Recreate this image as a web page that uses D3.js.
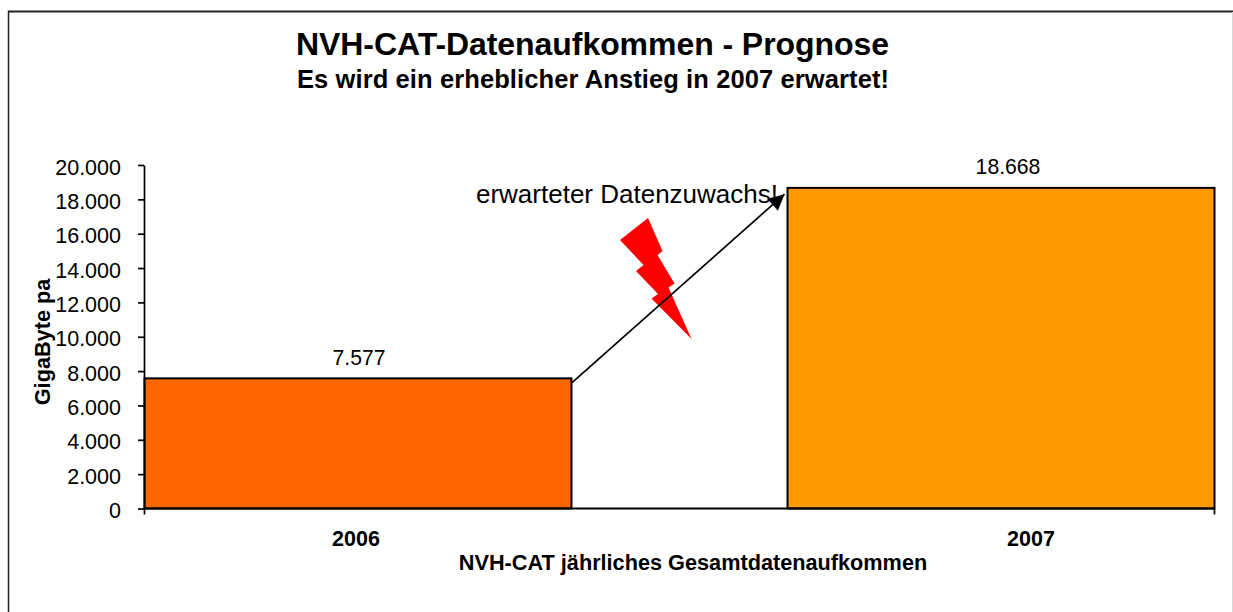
<!DOCTYPE html>
<html><head><meta charset="utf-8">
<script src="https://cdnjs.cloudflare.com/ajax/libs/d3/7.8.5/d3.min.js"></script>
<style>html,body{margin:0;padding:0;background:#fff}svg{display:block}text{font-family:"Liberation Sans",Arial,sans-serif;fill:#000}</style>
</head><body><svg id="c" width="1233" height="612"></svg>
<script>
const categories = ["2006", "2007"];
const seriesValues = [7577, 18668];
const barColors = ["#FF6600", "#FF9900"];
const yTicks = [0, 2000, 4000, 6000, 8000, 10000, 12000, 14000, 16000, 18000, 20000];
const titleMain = "NVH-CAT-Datenaufkommen - Prognose";
const titleSub = "Es wird ein erheblicher Anstieg in 2007 erwartet!";
const yTitle = "GigaByte pa";
const xTitle = "NVH-CAT jährliches Gesamtdatenaufkommen";
const annotation = "erwarteter Datenzuwachs!";

const svg = d3.select("#c");
const fmt = d => d3.format(",")(d).replace(/,/g, ".");
const x = d3.scaleBand().domain(categories).range([144.5, 1214.5]).paddingInner(0.336).paddingOuter(0);
const y = d3.scaleLinear().domain([0, 20000]).range([508.5, 165]);

svg.append("line").attr("x1", 8).attr("x2", 1233).attr("y1", 11.5).attr("y2", 11.5).attr("stroke", "#222").attr("stroke-width", 2);
svg.append("line").attr("x1", 8.5).attr("x2", 8.5).attr("y1", 11).attr("y2", 612).attr("stroke", "#222").attr("stroke-width", 1.5);
svg.append("line").attr("x1", 1232.5).attr("x2", 1232.5).attr("y1", 12).attr("y2", 612).attr("stroke", "#d8d8d8").attr("stroke-width", 1);

const band = x.bandwidth();
svg.selectAll("rect.bar").data(categories).join("rect").attr("class", "bar")
  .attr("x", d => x(d)).attr("width", band)
  .attr("y", (d, i) => y(seriesValues[i])).attr("height", (d, i) => y(0) - y(seriesValues[i]))
  .attr("fill", (d, i) => barColors[i]).attr("stroke", "#000").attr("stroke-width", 2);

const yAxis = d3.axisLeft(y).tickValues(yTicks).tickFormat(fmt).tickSize(6).tickPadding(17).tickSizeOuter(0);
const gy = svg.append("g").attr("transform", "translate(144,0)").call(yAxis);
gy.selectAll("path,line").attr("stroke", "#000").attr("stroke-width", 1.7);
gy.selectAll("text").attr("font-size", 21.5).attr("dy", "0.42em").attr("fill", "#111");

const gx = svg.append("g");
gx.append("line").attr("x1", x.range()[0]).attr("x2", x.range()[1]).attr("y1", y(0)).attr("y2", y(0)).attr("stroke", "#000").attr("stroke-width", 2);
[x.range()[0], x.range()[1]].forEach(px => gx.append("line").attr("x1", px).attr("x2", px).attr("y1", y(0)).attr("y2", y(0) + 6).attr("stroke", "#000").attr("stroke-width", 1.7));
const catShift = [-2, 30];
const valShift = [1, 7];
gx.selectAll("text.cat").data(categories).join("text").attr("class", "cat")
  .attr("x", (d, i) => x(d) + band / 2 + catShift[i]).attr("y", 546).attr("text-anchor", "middle")
  .attr("font-size", 21.5).attr("font-weight", "bold").text(d => d);

svg.selectAll("text.val").data(categories).join("text").attr("class", "val")
  .attr("x", (d, i) => x(d) + band / 2 + valShift[i]).attr("y", (d, i) => y(seriesValues[i]) - 13.5).attr("text-anchor", "middle")
  .attr("font-size", 21.2).attr("fill", "#111").text((d, i) => fmt(seriesValues[i]));

svg.append("text").attr("x", 296).attr("y", 55).attr("font-size", 32).attr("font-weight", "bold")
  .attr("textLength", 593).attr("lengthAdjust", "spacing").text(titleMain);
svg.append("text").attr("x", 297).attr("y", 88).attr("font-size", 25.5).attr("font-weight", "bold")
  .attr("textLength", 592).attr("lengthAdjust", "spacing").text(titleSub);
svg.append("text").attr("x", 693).attr("y", 570).attr("text-anchor", "middle").attr("font-size", 21.7).attr("font-weight", "bold").text(xTitle);
svg.append("text").attr("transform", "translate(50,342) rotate(-90)").attr("text-anchor", "middle").attr("font-size", 21.7).attr("font-weight", "bold").text(yTitle);
svg.append("text").attr("x", 778).attr("y", 203).attr("text-anchor", "end").attr("font-size", 26).attr("fill", "#222").text(annotation);

// lightning bolt decoration
const boltShape = [[648,218],[662.5,251],[657.5,255],[674.5,283.5],[668.5,287.5],[691.5,339],[651.5,298.5],[658,294],[636,271],[643.5,265],[620,240]];
svg.append("path").attr("d", d3.line()(boltShape) + "Z").attr("fill", "#FF0000");

// growth arrow between the two bars
const arrowStart = [x(categories[0]) + band, y(7300)];
const arrowEnd = [x(categories[1]) - 3, y(18300)];
svg.append("defs").append("marker").attr("id", "ah").attr("viewBox", "0 0 10 10").attr("refX", 10).attr("refY", 5)
  .attr("markerWidth", 18).attr("markerHeight", 16).attr("markerUnits", "userSpaceOnUse").attr("orient", "auto")
  .append("path").attr("d", "M0,0L10,5L0,10Z").attr("fill", "#000");
svg.append("line").attr("x1", arrowStart[0]).attr("y1", arrowStart[1]).attr("x2", arrowEnd[0]).attr("y2", arrowEnd[1])
  .attr("stroke", "#000").attr("stroke-width", 1.7).attr("marker-end", "url(#ah)");
</script></body></html>
